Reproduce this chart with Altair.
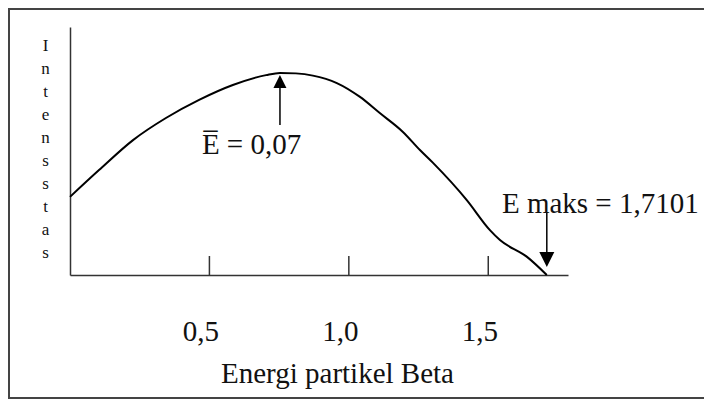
import altair as alt
import pandas as pd

# ---- data -----------------------------------------------------------------
# beta spectrum curve: energy (MeV) and relative intensity (0..1 of axis height)
energy = [0.0, 0.104, 0.226, 0.344, 0.463, 0.584, 0.703, 0.753, 0.810, 0.871, 0.957,
          1.040, 1.111, 1.194, 1.255, 1.302, 1.423, 1.506, 1.542, 1.639, 1.710]
intensity = [0.315, 0.423, 0.544, 0.633, 0.706, 0.766, 0.806, 0.815, 0.813, 0.804, 0.774,
             0.718, 0.653, 0.577, 0.504, 0.452, 0.302, 0.181, 0.141, 0.073, 0.0]

tick_values = [0.5, 1.0, 1.5]

y_title_letters = ["I", "n", "t", "e", "n", "s", "s", "t", "a", "s"]
x_title = "Energi partikel Beta"

# arrow to the mean energy (points up to the curve)
mean_arrow_E = [0.753]
mean_arrow_tail = [0.605]
mean_arrow_base = [0.754]
mean_arrow_head = [0.780]

# arrow to the maximum energy (points down to the axis)
max_arrow_E = [1.71]
max_arrow_tail = [0.254]
max_arrow_base = [0.093]
max_arrow_head = [0.0625]

note_text = ["E\u0305 = 0,07", "E maks = 1,7101"]
note_E = [0.473, 1.549]
note_I = [0.488, 0.25]

# ---- layout constants -------------------------------------------------------
PLOT_W, PLOT_H = 498, 248
TICK_LEN = 19
SERIF = "Liberation Serif"
INK = "#111111"
AXIS_INK = "#333333"
FRAME_INK = "#444444"

curve_df = pd.DataFrame({"E": energy, "I": intensity})
ticks_df = pd.DataFrame({"E": tick_values})
mean_df = pd.DataFrame({"E": mean_arrow_E, "I": mean_arrow_tail, "I2": mean_arrow_base, "H": mean_arrow_head})
max_df = pd.DataFrame({"E": max_arrow_E, "I": max_arrow_tail, "I2": max_arrow_base, "H": max_arrow_head})
note_df = pd.DataFrame({"E": note_E, "I": note_I, "t": note_text})

xscale = alt.Scale(domain=[0, 1.786], nice=False, zero=False)
yscale = alt.Scale(domain=[0, 1], nice=False, zero=False)

xaxis = alt.Axis(
    values=tick_values, ticks=False, grid=False,
    domainColor=AXIS_INK, domainWidth=1.5,
    labelExpr="replace(format(datum.value, '.1f'), '.', ',')",
    labelFont=SERIF, labelFontSize=29, labelColor=INK,
    labelBaseline="alphabetic", labelPadding=65, labelOffset=-9,
    labelOverlap=False, labelFlush=False,
    title=x_title, titleFont=SERIF, titleFontSize=29, titleFontWeight="normal",
    titleColor=INK, titleX=267, titleY=107, titleAlign="center",
    titleBaseline="alphabetic",
)
yaxis = alt.Axis(
    labels=False, ticks=False, grid=False,
    domainColor=AXIS_INK, domainWidth=1.5,
    title=y_title_letters, titleAngle=0, titleFont=SERIF, titleFontSize=17,
    titleFontWeight="normal", titleColor=INK, titleLineHeight=23,
    titleX=-25, titleY=23, titleAlign="center", titleBaseline="alphabetic",
)

X = alt.X("E:Q", scale=xscale, axis=xaxis)
Y = alt.Y("I:Q", scale=yscale, axis=yaxis)

# picture frame: left, top and bottom edges (the right edge is off the picture)
one = pd.DataFrame({"k": [0]})
frame_left = alt.Chart(one).mark_rule(color=FRAME_INK, strokeWidth=2).encode(
    x=alt.value(-61), y=alt.value(-19), y2=alt.value(372))
frame_top = alt.Chart(one).mark_rect(fill=FRAME_INK, opacity=1, strokeWidth=0).encode(
    x=alt.value(-62), x2=alt.value(700), y=alt.value(-19), y2=alt.value(-17))
frame_bottom = alt.Chart(one).mark_rect(fill=FRAME_INK, opacity=1, strokeWidth=0).encode(
    x=alt.value(-62), x2=alt.value(700), y=alt.value(370), y2=alt.value(372))

curve = alt.Chart(curve_df).mark_line(
    color="black", strokeWidth=2, interpolate="monotone"
).encode(x=X, y=Y)

tick_rules = alt.Chart(ticks_df).mark_rule(color=AXIS_INK, strokeWidth=1.5).encode(
    x=X, y=alt.value(PLOT_H), y2=alt.value(PLOT_H - TICK_LEN)
)

mean_stem = alt.Chart(mean_df).mark_rule(color="black", strokeWidth=1.5).encode(
    x=X, y=Y, y2="I2:Q"
)
mean_head = alt.Chart(mean_df).mark_point(
    shape="M0,-1L1,1L-1,1Z", filled=True, color="black", opacity=1, size=169
).encode(x=X, y=alt.Y("H:Q", scale=yscale, axis=yaxis))

max_stem = alt.Chart(max_df).mark_rule(color="black", strokeWidth=1.5).encode(
    x=X, y=Y, y2="I2:Q"
)
max_head = alt.Chart(max_df).mark_point(
    shape="M0,1L1,-1L-1,-1Z", filled=True, color="black", opacity=1, size=225
).encode(x=X, y=alt.Y("H:Q", scale=yscale, axis=yaxis))

notes = alt.Chart(note_df).mark_text(
    font=SERIF, fontSize=29, color=INK, align="left", baseline="alphabetic"
).encode(x=X, y=Y, text="t:N")

chart = alt.layer(
    frame_left, frame_top, frame_bottom,
    curve, tick_rules, mean_stem, mean_head, max_stem, max_head, notes
).properties(
    width=PLOT_W, height=PLOT_H,
    padding={"left": 62, "top": 19, "right": 136, "bottom": 124},
    autosize=alt.AutoSizeParams(type="none"),
    background="white",
).configure_view(stroke=None)

chart.save("out.html", embed_options={"renderer": "svg", "actions": False})
